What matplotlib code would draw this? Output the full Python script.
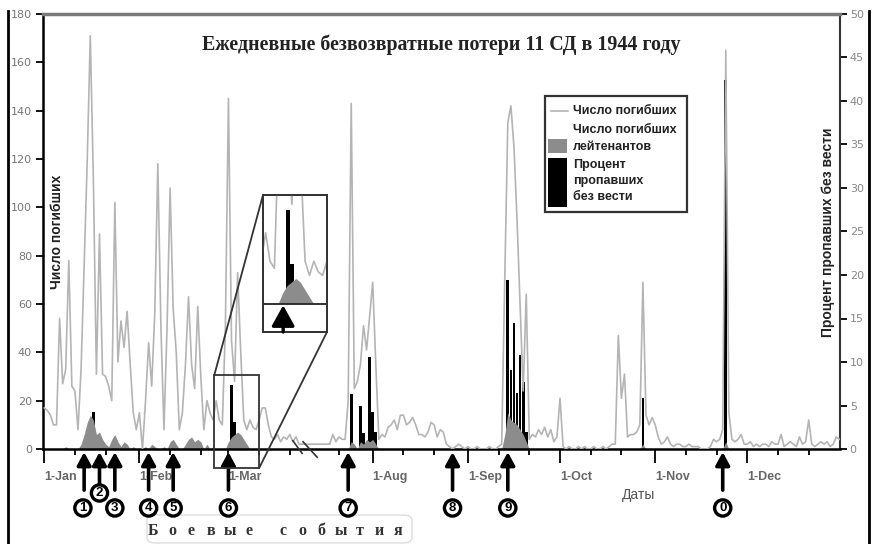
import matplotlib
matplotlib.use("Agg")
import matplotlib.pyplot as plt
import numpy as np
from datetime import date
from matplotlib.patches import Rectangle, ConnectionPatch, FancyBboxPatch
from matplotlib.lines import Line2D

LINE_GRAY = '#b4b4b4'
AREA_GRAY = '#8c8c8c'
TICK_GRAY = '#5a5a5a'

# the chart skips 27 Mar - 10 Jul 1944 (106 days)
GAP_START = date(1944, 3, 27)
GAP_DAYS = 106

# daily killed ("Число погибших")
JAN = [17, 16, 14, 10, 10, 54, 27, 33, 78, 26, 24, 8, 33, 76, 119, 171, 112, 31, 89, 31,
       30, 26, 20, 102, 36, 53, 42, 57, 35, 15, 8]
FEB = [15, 0, 20, 44, 26, 56, 118, 51, 8, 50, 108, 58, 40, 8, 15, 35, 63, 35, 25, 59,
       30, 8, 20, 15, 12, 20, 12, 10, 50]
MAR_1_26 = [145, 45, 28, 73, 40, 12, 8, 12, 9, 8, 12, 17, 17, 10, 5, 4, 6, 3, 5, 4,
            6, 3, 5, 2, 2, 2]
JUL_11_31 = [2, 2, 2, 2, 2, 2, 2, 2, 6, 3, 5, 4, 4, 20, 143, 25, 28, 35, 51, 41, 55]
AUG = [69, 35, 4, 6, 5, 9, 10, 12, 8, 14, 14, 10, 11, 13, 10, 6, 6, 5, 7, 11,
       10, 5, 8, 7, 2, 1, 0, 1, 2, 1, 0]
SEP = [1, 0, 0, 1, 0, 0, 0, 1, 0, 0, 1, 2, 70, 135, 142, 125, 95, 60, 24, 64,
       4, 6, 5, 8, 6, 9, 5, 8, 3, 5]
OCT = [21, 1, 0, 1, 0, 0, 1, 0, 1, 0, 0, 1, 0, 0, 1, 0, 1, 2, 2, 47,
       21, 31, 5, 6, 6, 7, 10, 69, 14, 10, 13]
NOV = [10, 5, 2, 3, 5, 2, 1, 2, 2, 1, 1, 2, 1, 1, 1, 0, 0, 0, 1, 4,
       3, 4, 8, 165, 15, 4, 3, 4, 6, 2]
DEC = [2, 3, 1, 2, 1, 2, 2, 1, 3, 2, 2, 6, 1, 2, 3, 2, 1, 5, 2, 3,
       12, 2, 1, 2, 3, 2, 3, 1, 2, 5, 4]

# killed lieutenants (days not listed = 0)
LT_DATES = ['01-08', '01-13', '01-14', '01-15', '01-16', '01-17', '01-18', '01-19', '01-20',
            '01-21', '01-22', '01-23', '01-24', '01-25', '01-26', '01-27', '01-28', '01-30',
            '02-03', '02-05', '02-06', '02-09', '02-11', '02-12', '02-13', '02-16', '02-17',
            '02-18', '02-19', '02-20', '02-21', '02-23', '02-25',
            '03-01', '03-02', '03-03', '03-04', '03-05', '03-06', '03-07',
            '07-25', '07-26', '07-28', '07-29', '07-30', '07-31', '08-01', '08-02',
            '09-13', '09-14', '09-15', '09-16', '09-17', '09-18', '09-19', '09-20',
            '10-28', '11-24']
LT_COUNTS = [1, 2, 6, 11, 14, 12, 6, 7, 4,
             2, 1, 4, 6, 3, 1, 3, 2, 1,
             1, 2, 1, 1, 3, 4, 2, 2, 4,
             5, 3, 4, 3, 2, 1,
             3, 5, 6, 7, 6, 4, 2,
             3, 2, 3, 2, 4, 3, 4, 2,
             6, 15, 12, 11, 10, 8, 6, 3,
             2, 3]

# percent missing in action (right axis)
MIA_DATES = ['01-17', '03-02', '03-03', '07-25', '07-28', '07-29', '07-31', '08-01', '08-02',
             '09-14', '09-15', '09-16', '09-17', '09-18', '09-19', '09-20', '10-28', '11-24']
MIA_PCT = [4.3, 7.3, 3.1, 6.3, 4.9, 1.8, 10.6, 4.2, 1.9,
           19.4, 9.1, 14.5, 6.4, 10.8, 7.7, 2.0, 5.9, 42.4]

# combat events (arrows under the axis)
EVENT_DATES = ['01-14', '01-19', '01-24', '02-04', '02-12', '03-01', '07-24', '08-27', '09-14', '11-23']
EVENT_LABELS = ['1', '2', '3', '4', '5', '6', '7', '8', '9', '0']

MONTH_TICKS = ['01-01', '02-01', '03-01', '08-01', '09-01', '10-01', '11-01', '12-01']
MONTH_LABELS = ['1-Jan', '1-Feb', '1-Mar', '1-Aug', '1-Sep', '1-Oct', '1-Nov', '1-Dec']
MINOR_TICKS = ['01-11', '01-21', '02-11', '02-21', '03-11', '03-21', '07-21', '08-11', '08-21',
               '09-11', '09-21', '10-11', '10-21', '11-11', '11-21', '12-11', '12-21']


def pos(md):
    m, d = (int(v) for v in md.split('-'))
    day = date(1944, m, d)
    n = (day - date(1944, 1, 1)).days
    return n - GAP_DAYS if day >= GAP_START else n


deaths = np.array(JAN + FEB + MAR_1_26 + JUL_11_31 + AUG + SEP + OCT + NOV + DEC, float)
x = np.arange(len(deaths))
lts = np.zeros(len(deaths))
lts[[pos(d) for d in LT_DATES]] = LT_COUNTS
mia_x = [pos(d) for d in MIA_DATES]

W, H = 874, 544
fig = plt.figure(figsize=(W / 100, H / 100), dpi=100)
fig.patch.set_facecolor('white')


def fx(px):
    return px / W


def fy(py):
    return 1 - py / H


ax = fig.add_axes([fx(43), fy(449), fx(797), 435 / H])
ax2 = ax.twinx()
ax.set_zorder(ax2.get_zorder() + 1)
ax.patch.set_visible(False)

ax2.bar(mia_x, MIA_PCT, width=0.9, color='black', zorder=2)
ax.fill_between(x, 0, lts, color=AREA_GRAY, lw=0, zorder=2)
ax.plot(x, deaths, color=LINE_GRAY, lw=1.2, zorder=3)

ax.set_xlim(-0.4, 259.2)
ax.set_ylim(0, 180)
ax2.set_ylim(0, 50)
ax.set_yticks(range(0, 181, 20))
ax2.set_yticks(range(0, 51, 5))

ax.set_xticks([pos(d) for d in MONTH_TICKS])
ax.set_xticklabels(MONTH_LABELS, ha='left', fontsize=9, fontweight='bold', color='#666666',
                   family='Liberation Sans')
ax.set_xticks([pos(d) for d in MINOR_TICKS], minor=True)
ax.tick_params(axis='x', which='major', length=10, width=1.3, pad=6, direction='out')
ax.tick_params(axis='x', which='minor', length=4, width=1.3, direction='out')
ax.tick_params(axis='y', length=5, width=1.3, pad=3, labelsize=8, labelcolor='#777777')
ax2.tick_params(axis='y', length=5, width=1.3, pad=2, labelsize=8, labelcolor='#888888')

for s in ('left', 'bottom'):
    ax.spines[s].set_linewidth(1.8)
ax.spines['top'].set_color('#7a7a7a')
ax.spines['top'].set_linewidth(2.5)
ax.spines['right'].set_visible(False)
for s in ('left', 'top', 'bottom'):
    ax2.spines[s].set_visible(False)
ax2.spines['right'].set_color('#333333')
ax2.spines['right'].set_linewidth(1.5)

# break marks on the axis
for x0, x1, y0, y1 in [(81.0, 84.0, 3.4, -1.8), (84.3, 88.9, 3.0, -3.4)]:
    ax.plot([x0, x1], [y0, y1], color='#333333', lw=1.2, clip_on=False, zorder=5)

# event arrows and numbered circles
for d, lab in zip(EVENT_DATES, EVENT_LABELS):
    p = pos(d)
    tail = -15.0 if lab == '2' else -17.0
    ax.annotate('', xy=(p, -1.3), xytext=(p, tail), annotation_clip=False,
                arrowprops=dict(arrowstyle='-|>,head_length=0.55,head_width=0.3',
                                lw=2.6, color='black', shrinkA=0, shrinkB=0,
                                mutation_scale=14))
    cy = -18.2 if lab == '2' else -24.4
    cx = p - 0.4 if lab in ('1',) else p
    ax.text(cx, cy, lab, ha='center', va='center', fontsize=9.5, fontweight='bold',
            family='Liberation Sans', clip_on=False,
            bbox=dict(boxstyle='circle,pad=0.16', fc='white', ec='black', lw=2.4))

# zoom box around event 6
bx0, bx1, by0, by1 = 55.4, 70.0, -7.9, 30.6
ax.add_patch(Rectangle((bx0, by0), bx1 - bx0, by1 - by0, fill=False, ec='#333333',
                       lw=1.3, clip_on=False, zorder=6))

axi2 = fig.add_axes([fx(263), fy(332), fx(64), 137 / H])
axi = axi2.twinx()
axi2.set_zorder(7)
axi.set_zorder(8)
axi.patch.set_visible(False)
axi2.patch.set_visible(True)
axi2.patch.set_facecolor('white')
axi2.bar(mia_x, MIA_PCT, width=0.9, color='black')
axi.fill_between(x, 0, lts, color=AREA_GRAY, lw=0)
axi.plot(x, deaths, color=LINE_GRAY, lw=1.2)
axi.set_xlim(bx0, bx1)
axi.set_ylim(by0, by1)
axi2.set_ylim(by0 * 50 / 180, by1 * 50 / 180)
axi.axhline(0, color='#222222', lw=1.3)
axi.annotate('', xy=(pos('03-01'), -0.4), xytext=(pos('03-01'), by0),
             arrowprops=dict(arrowstyle='-|>,head_length=0.9,head_width=0.5', lw=2.4,
                             color='black', shrinkA=0, shrinkB=0, mutation_scale=14))
for a in (axi, axi2):
    a.set_xticks([])
    a.set_yticks([])
    for s in a.spines.values():
        s.set_color('#333333')
        s.set_linewidth(1.3)

for xyA, xyB in [((bx0, by1), (0, 1)), ((bx1, by0), (1, 0))]:
    con = ConnectionPatch(xyA=xyA, coordsA=ax.transData, xyB=xyB, coordsB=axi.transAxes,
                          color='#333333', lw=1.3, zorder=6)
    fig.add_artist(con)

# texts
fig.text(fx(441), fy(45), 'Ежедневные безвозвратные потери 11 СД в 1944 году',
         ha='center', va='center', fontsize=14.4, fontweight='bold', family='Liberation Serif',
         color='#222222')
fig.text(fx(57), fy(232), 'Число погибших', rotation=90, ha='center', va='center',
         fontsize=10, fontweight='bold', family='Liberation Sans', color='#222222')
fig.text(fx(828), fy(232), 'Процент пропавших без вести', rotation=90, ha='center',
         va='center', fontsize=10, fontweight='bold', family='Liberation Sans', color='#222222')
fig.text(fx(639), fy(495), 'Даты', ha='center', va='center', fontsize=10,
         family='Liberation Sans', color='#555555')

# "Боевые события" with wide letter spacing
for word, start in [('Боевые', 153), ('события', 283)]:
    for k, ch in enumerate(word):
        fig.text(fx(start + 19.2 * k), fy(531), ch, ha='center', va='center', fontsize=11.5,
                 fontweight='bold', family='Liberation Serif', color='#333333')
fig.add_artist(FancyBboxPatch((fx(147), fy(543)), fx(265), 28 / H,
                              boxstyle='round,pad=0,rounding_size=0.01',
                              transform=fig.transFigure, fill=False, ec='#dddddd', lw=1))

# legend (drawn by hand)
fig.add_artist(Rectangle((fx(545), fy(212)), fx(142), 116 / H, transform=fig.transFigure,
                         fc='white', ec='#333333', lw=1.6, zorder=9))
fig.add_artist(Line2D([fx(551), fx(568)], [fy(111), fy(111)], transform=fig.transFigure,
                      color=LINE_GRAY, lw=1.2, zorder=10))
fig.add_artist(Rectangle((fx(548), fy(153)), fx(19), 14 / H, transform=fig.transFigure,
                         fc=AREA_GRAY, ec='none', zorder=10))
fig.add_artist(Rectangle((fx(548), fy(207)), fx(19), 49 / H, transform=fig.transFigure,
                         fc='black', ec='none', zorder=10))
for ty, txt in [(111, 'Число погибших'), (130, 'Число погибших'), (147, 'лейтенантов'),
                (165, 'Процент'), (181, 'пропавших'), (197, 'без вести')]:
    fig.text(fx(573), fy(ty), txt, ha='left', va='center', fontsize=9, fontweight='bold',
             family='Liberation Sans', color='#222222', zorder=11)

# scan border
for bx in (8, 869):
    fig.add_artist(Line2D([fx(bx), fx(bx)], [0, fy(11)], transform=fig.transFigure,
                          color='black', lw=2))

fig.savefig('out.png', dpi=100, facecolor='white')
